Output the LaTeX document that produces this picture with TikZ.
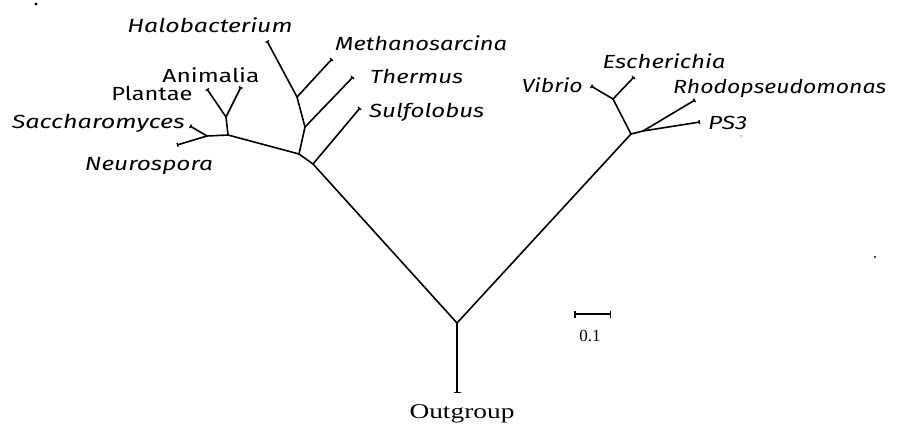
\documentclass[tikz,border=0pt]{standalone}
\usepackage{fontspec}
\setmainfont{Fira Sans}
\newfontfamily\numfont{Liberation Serif}
\usetikzlibrary{arrows.meta}
% set a label to a given width, keeping its natural height
\newcommand\fitto[2]{\resizebox{#1}{\height}{#2}}
\begin{document}
\begin{tikzpicture}[x=1pt,y=-1pt,
  branch/.style={line width=1.6pt,line cap=round,line join=round},
  leaf/.style={branch,-{Bar[width=4pt,line width=1.3pt]}},
  taxon/.style={inner sep=0pt,font=\fontsize{19}{19}\selectfont\itshape},
  group/.style={inner sep=0pt,font=\fontsize{19}{19}\selectfont}]
\useasboundingbox (0,0) rectangle (902,423);

% internal nodes of the tree
\coordinate (root) at (457,323);
\coordinate (arc)  at (313,164);
\coordinate (mix)  at (299,154);
\coordinate (thr)  at (305,127);
\coordinate (hal)  at (297,97);
\coordinate (euk)  at (228,135);
\coordinate (ani)  at (226,117);
\coordinate (fun)  at (207,136);
\coordinate (bac)  at (631,134);
\coordinate (ent)  at (613,99);
\coordinate (pur)  at (643,131);

% leaf tips
\coordinate (tOut)  at (457,393);
\coordinate (tHalo) at (267,41);
\coordinate (tMeth) at (332,59);
\coordinate (tTher) at (353,77);
\coordinate (tSulf) at (360,108);
\coordinate (tAnim) at (241,87);
\coordinate (tPlan) at (207,89);
\coordinate (tSacc) at (190,126);
\coordinate (tNeur) at (177,145);
\coordinate (tVibr) at (591,86);
\coordinate (tEsch) at (634,77);
\coordinate (tRhod) at (695,100);
\coordinate (tPS)   at (700,122);

% labels
\node[taxon,anchor=base]      (lHalo) at (210,32)  {\fitto{165pt}{Halobacterium}};
\node[taxon,anchor=base west] (lMeth) at (335,50)  {\fitto{172pt}{Methanosarcina}};
\node[taxon,anchor=base west] (lTher) at (370,83)  {\fitto{93pt}{Thermus}};
\node[taxon,anchor=base west] (lSulf) at (369,117) {\fitto{115pt}{Sulfolobus}};
\node[group,anchor=base]      (lAnim) at (211,82)  {\fitto{97pt}{Animalia}};
\node[group,anchor=base]      (lPlan) at (152,100) {\fitto{81pt}{Plantae}};
\node[taxon,anchor=base east] (lSacc) at (185,128) {\fitto{173pt}{Saccharomyces}};
\node[taxon,anchor=base]      (lNeur) at (149,170) {\fitto{128pt}{Neurospora}};
\node[taxon,anchor=base east] (lVibr) at (583,92)  {\fitto{61pt}{Vibrio}};
\node[taxon,anchor=base]      (lEsch) at (664,68)  {\fitto{123pt}{Escherichia}};
\node[taxon,anchor=base west] (lRhod) at (673,93)  {\fitto{213pt}{Rhodopseudomonas}};
\node[taxon,anchor=base west] (lPS)   at (708,129) {\fitto{39pt}{PS3}};
\node[inner sep=0pt,anchor=base,font=\numfont\fontsize{21}{21}\selectfont]
      (lOut) at (462,418) {\fitto{105pt}{Outgroup}};

% branches
\draw[branch] (root) -- (arc);
\draw[branch] (arc) -- (mix);
\draw[leaf]   (arc) -- (tSulf);
\draw[branch] (mix) -- (thr);
\draw[leaf]   (thr) -- (tTher);
\draw[branch] (thr) -- (hal);
\draw[leaf]   (hal) -- (tHalo);
\draw[leaf]   (hal) -- (tMeth);
\draw[branch] (mix) -- (euk);
\draw[branch] (euk) -- (ani);
\draw[leaf]   (ani) -- (tAnim);
\draw[leaf]   (ani) -- (tPlan);
\draw[branch] (euk) -- (fun);
\draw[leaf]   (fun) -- (tSacc);
\draw[leaf]   (fun) -- (tNeur);
\draw[branch] (root) -- (bac);
\draw[branch] (bac) -- (ent);
\draw[leaf]   (ent) -- (tVibr);
\draw[leaf]   (ent) -- (tEsch);
\draw[branch] (bac) -- (pur);
\draw[leaf]   (pur) -- (tRhod);
\draw[leaf]   (pur) -- (tPS);
\draw[branch,-{Bar[width=7pt,line width=1.3pt]}] (root) -- (tOut);

% scale bar
\coordinate (sA) at (574,314);
\coordinate (sB) at (611,314);
\draw[line width=2pt,{Bar[width=7pt,line width=1.5pt]}-{Bar[width=7pt,line width=1.5pt]}] (sA) -- (sB);
\node[inner sep=0pt,anchor=base,font=\numfont\fontsize{17}{17}\selectfont] (lScale) at (590,341) {0.1};

% specks
\fill (36,4) circle (1.6pt);
\fill (875,257) circle (1.2pt);
\fill (741,136) circle (0.7pt);
\end{tikzpicture}
\end{document}
